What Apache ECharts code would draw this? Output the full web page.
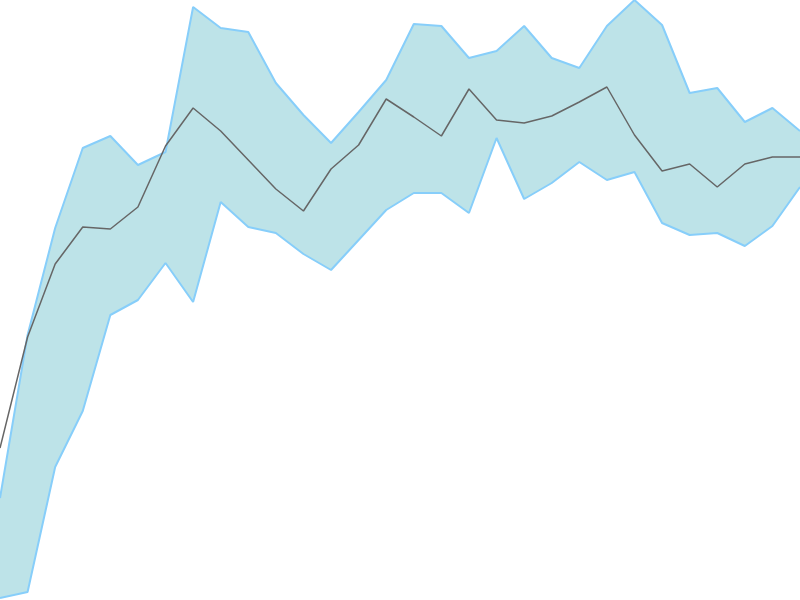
<!DOCTYPE html>
<html>
<head>
<meta charset="utf-8">
<script src="https://cdn.jsdelivr.net/npm/echarts@6/dist/echarts.min.js"></script>
<style>html,body{margin:0;padding:0;background:#fff}#c{width:800px;height:600px}</style>
</head>
<body>
<div id="c"></div>
<script>
const categories = ['1','2','3','4','5','6','7','8','9','10','11','12','13','14','15','16','17','18','19','20','21','22','23','24','25','26','27','28','29','30'];
const upper = [102,265,372,452,464,435,448,593,572,568,517,485,457,488,520,576,574,542,549,574,542,532,574,600,575,507,512,478,492,469];
const lower = [2,8,133,189,285,300,337,298,398,373,367,346,330,360,390,407,407,387,462,401,417,438,420,428,377,365,367,354,374,413];
const middle = [152,263,336,373,371,393,454,492,469,440,411,389,431,455,501,483,464,511,480,477,484,498,513,465,429,436,413,436,443,443];

const bandWidth = upper.map((u, i) => u - lower[i]);

const chart = echarts.init(document.getElementById('c'));
chart.setOption({
  animation: false,
  grid: { left: 0, right: 0, top: 0, bottom: 0 },
  xAxis: { type: 'category', data: categories, boundaryGap: false, show: false },
  yAxis: { type: 'value', min: 0, max: 600, show: false },
  series: [
    {
      name: 'lower', type: 'line', stack: 'band', data: lower, symbol: 'none',
      lineStyle: { color: '#87cefa', width: 2 }
    },
    {
      name: 'band', type: 'line', stack: 'band', data: bandWidth, symbol: 'none',
      lineStyle: { color: '#87cefa', width: 2 },
      areaStyle: { color: '#bde3e8', opacity: 1 }
    },
    {
      name: 'middle', type: 'line', data: middle, symbol: 'none',
      lineStyle: { color: '#666666', width: 1.5 }
    }
  ]
});
</script>
</body>
</html>
